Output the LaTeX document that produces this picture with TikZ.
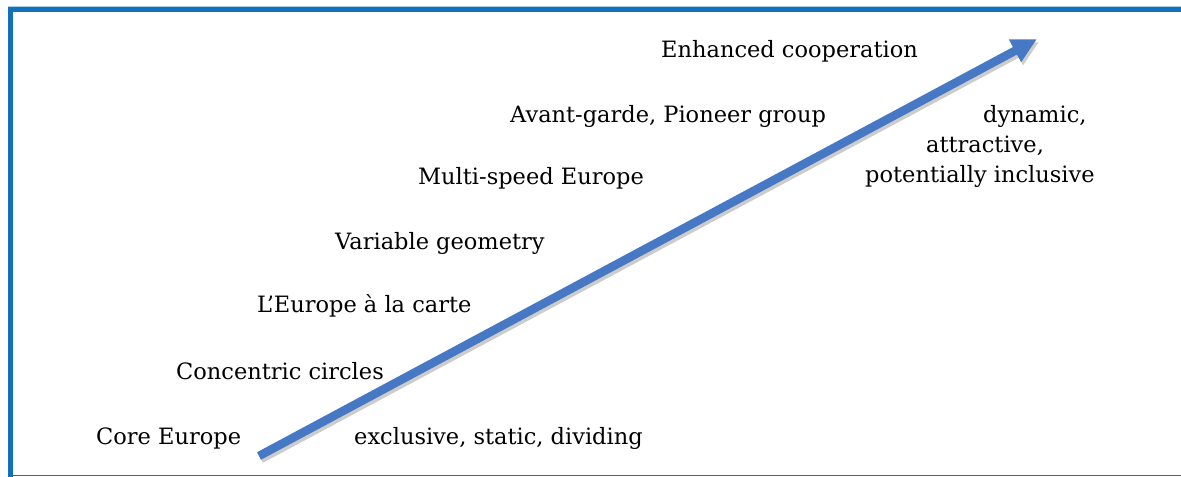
\documentclass[tikz,border=0pt]{standalone}
\usepackage{fontspec}
\setmainfont{DejaVu Serif}
\usetikzlibrary{arrows.meta}
\definecolor{frameblue}{RGB}{17,114,186}
\definecolor{arrowblue}{RGB}{70,120,196}
\begin{document}
\begin{tikzpicture}[x=1bp,y=-1bp,
  lbl/.style={font=\fontsize{22.5bp}{27bp}\selectfont, anchor=base west, inner sep=0pt, text=black},
  bigarrow/.style={line width=8.5bp, -{Triangle[length=25bp,width=24bp]}}]
\useasboundingbox (0,0) rectangle (1181,477);
\fill[white] (0,0) rectangle (1181,477);
% frame
\fill[frameblue!35] (8,6) rectangle (1181,7);
\fill[frameblue] (8,7) rectangle (1181,12);
\fill[frameblue] (8,7) rectangle (13.3,477);
\fill[frameblue] (8,474.6) rectangle (1181,476.2);
% labels
\node[lbl] (core) at (96,444) {Core Europe};
\node[lbl] (excl) at (354,444) {exclusive, static, dividing};
\node[lbl] (conc) at (176,380) {Concentric circles};
\node[lbl] (carte) at (257,313) {L’Europe à la carte};
\node[lbl] (vargeo) at (335,250) {Variable geometry};
\node[lbl] (multi) at (418,185) {Multi-speed Europe};
\node[lbl] (avant) at (510,123) {Avant-garde, Pioneer group};
\node[lbl] (enh) at (661,58) {Enhanced cooperation};
\node[lbl] (dyn) at (983,123) {dynamic,};
\node[lbl] (attr) at (926,153) {attractive,};
\node[lbl] (pot) at (865,183) {potentially inclusive};
% arrow
\coordinate (s) at (259,456);
\coordinate (e) at (1037,39);
\draw[gray!40, bigarrow] ([shift={(2,3)}]s) -- ([shift={(2,3)}]e);
\draw[arrowblue, bigarrow] (s) -- (e);
\end{tikzpicture}
\end{document}
